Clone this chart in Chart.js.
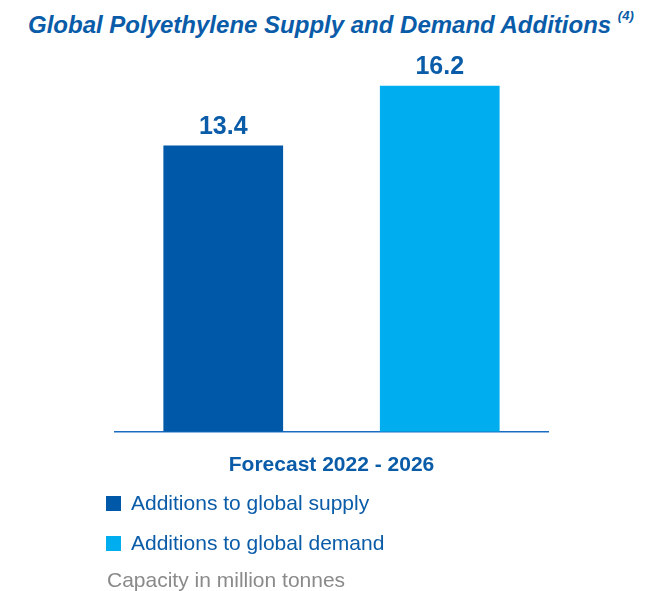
<!DOCTYPE html>
<html>
<head>
<meta charset="utf-8">
<script src="https://cdn.jsdelivr.net/npm/chart.js@4.4.0/dist/chart.umd.min.js"></script>
<style>
  html, body { margin: 0; padding: 0; background: #fff; }
  body { width: 666px; height: 591px; position: relative; overflow: hidden; font-family: "Liberation Sans", Arial, sans-serif; }
  #title { position: absolute; top: 6px; left: 28px; white-space: nowrap; color: #0a5ca8; font-size: 24px; line-height: 28px; font-weight: bold; font-style: italic; }
  #title sup { font-size: 13px; position: relative; top: -4px; }
  #chartWrap { position: absolute; left: 0; top: 0; width: 666px; height: 591px; }
  #legend { position: absolute; left: 106px; top: 483px; }
  .item { height: 40px; display: flex; align-items: center; color: #0a5ca8; font-size: 21px; }
  .box { width: 15px; height: 15px; margin-right: 10px; }
  #note { position: absolute; left: 107px; top: 568px; color: #8a8a8a; font-size: 21px; line-height: 24px; }
</style>
</head>
<body>
<div id="title">Global Polyethylene Supply and Demand Additions <sup>(4)</sup></div>
<div id="chartWrap"><canvas id="chart" width="666" height="591"></canvas></div>
<div id="legend"></div>
<div id="note">Capacity in million tonnes</div>
<script>
const categories = ["Forecast 2022 - 2026"];
const seriesNames = ["Additions to global supply", "Additions to global demand"];
const supplyValues = [13.4];
const demandValues = [16.2];
const seriesColors = ["#0059a8", "#00aeef"];

// value labels above each bar
const valueLabels = {
  id: "valueLabels",
  afterDatasetsDraw(chart) {
    const ctx = chart.ctx;
    ctx.save();
    ctx.font = "bold 25px 'Liberation Sans', Arial, sans-serif";
    ctx.fillStyle = "#0a5ca8";
    ctx.textAlign = "center";
    ctx.textBaseline = "bottom";
    chart.data.datasets.forEach((ds, i) => {
      chart.getDatasetMeta(i).data.forEach((bar, j) => {
        ctx.fillText(ds.data[j].toFixed(1), bar.x, bar.y - 6);
      });
    });
    ctx.restore();
  },
};

const ctx = document.getElementById("chart").getContext("2d");
new Chart(ctx, {
  type: "bar",
  data: {
    labels: categories,
    datasets: [
      { label: seriesNames[0], data: supplyValues, backgroundColor: seriesColors[0] },
      { label: seriesNames[1], data: demandValues, backgroundColor: seriesColors[1] },
    ],
  },
  options: {
    responsive: false,
    animation: false,
    layout: { padding: { left: 115, right: 118, top: 60, bottom: 92 } },
    datasets: { bar: { categoryPercentage: 1.0, barPercentage: 0.553 } },
    plugins: { legend: { display: false }, tooltip: { enabled: false } },
    scales: {
      x: {
        grid: { display: false, drawTicks: false },
        border: { display: true, color: "#1a6cc0", width: 1.5 },
        ticks: {
          padding: 21,
          color: "#0a5ca8",
          font: { family: "'Liberation Sans', Arial, sans-serif", size: 21, weight: "bold" },
        },
      },
      y: { display: false, min: 0, max: 17.4 },
    },
  },
  plugins: [valueLabels],
});

// legend list built from the series
const legend = document.getElementById("legend");
seriesNames.forEach((name, i) => {
  const row = document.createElement("div");
  row.className = "item";
  row.innerHTML = `<span class="box" style="background:${seriesColors[i]}"></span>${name}`;
  legend.appendChild(row);
});
</script>
</body>
</html>
